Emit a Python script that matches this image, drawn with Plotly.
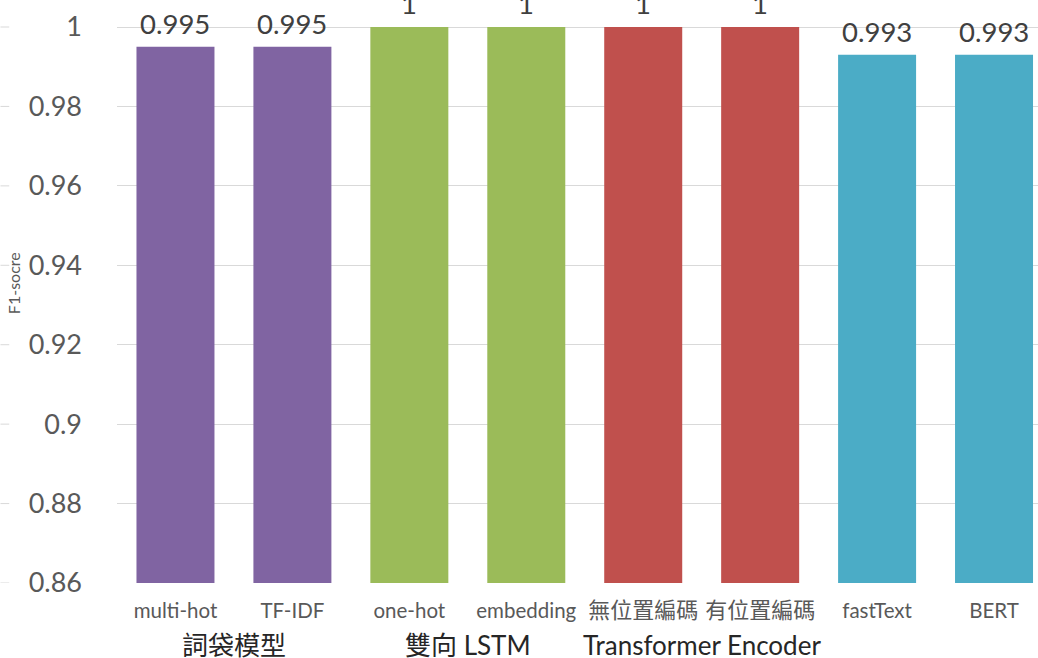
import plotly.graph_objects as go

# F1 scores per model variant
categories = ["multi-hot", "TF-IDF", "one-hot", "embedding",
              "無位置編碼", "有位置編碼", "fastText", "BERT"]
f1_scores = [0.995, 0.995, 1, 1, 1, 1, 0.993, 0.993]
groups = ["詞袋模型", "詞袋模型", "雙向 LSTM", "雙向 LSTM",
          "Transformer Encoder", "Transformer Encoder", "", ""]
bar_colors = ["#8064A2", "#8064A2", "#9BBB59", "#9BBB59",
              "#C0504D", "#C0504D", "#4BACC6", "#4BACC6"]
y_ticks = [0.86, 0.88, 0.90, 0.92, 0.94, 0.96, 0.98, 1.0]
y_tick_text = ["0.86", "0.88", "0.9", "0.92", "0.94", "0.96", "0.98", "1"]

FONT = "Lato, 'Noto Sans CJK TC', sans-serif"


def cat_label(s):
    # CJK labels are set a little larger so they sit with the Latin ones
    if any(ord(ch) > 0x2E80 for ch in s):
        return f'<span style="font-size:22px">{s}</span>'
    return s


x_pos = list(range(len(categories)))

fig = go.Figure(go.Bar(
    x=x_pos,
    y=f1_scores,
    marker=dict(color=bar_colors, line=dict(width=0)),
    width=0.667,
    base=0,
    hoverinfo="x+y",
))

# value labels above each bar
for xi, v in zip(x_pos, f1_scores):
    fig.add_annotation(
        x=xi, xref="x", y=v, yref="y",
        yanchor="bottom", yshift=5,
        text=f"{v:g}", showarrow=False,
        font=dict(family=FONT, size=27.5, color="#404040"),
    )

# group captions centred beneath their member categories
seen = []
for g in groups:
    if g and g not in seen:
        seen.append(g)
for g in seen:
    idx = [i for i, gg in enumerate(groups) if gg == g]
    fig.add_annotation(
        x=sum(idx) / len(idx), xref="x",
        y=0, yref="paper", yanchor="middle", yshift=-62,
        text=g, showarrow=False,
        font=dict(family=FONT, size=26, color="#262626"),
    )

# y-axis title
fig.add_annotation(
    x=-0.1125, xref="paper", y=0.515, yref="paper",
    text="F1-socre", textangle=-90, showarrow=False,
    font=dict(family=FONT, size=16, color="#595959"),
    xanchor="center", yanchor="middle",
)

# short guide marks at the far left edge at each gridline
for t in y_ticks:
    fig.add_shape(type="line", xref="paper", yref="y",
                  x0=-0.1265, x1=-0.117, y0=t, y1=t,
                  line=dict(color="#d9d9d9", width=1))

fig.update_layout(
    width=1038, height=658,
    margin=dict(l=116.5, r=0, t=0, b=75, autoexpand=False),
    paper_bgcolor="white", plot_bgcolor="white",
    showlegend=False,
    xaxis=dict(
        range=[-0.5, 7.376],
        tickvals=x_pos, ticktext=[cat_label(c) for c in categories],
        tickfont=dict(family=FONT, size=20.5, color="#595959"),
        tickangle=0, automargin=False,
        showgrid=False, zeroline=False, showline=False,
        ticks="", ticklabelstandoff=13,
    ),
    yaxis=dict(
        range=[0.86, 1.0068],
        tickvals=y_ticks, ticktext=y_tick_text,
        tickfont=dict(family=FONT, size=27, color="#595959"),
        automargin=False,
        showgrid=True, gridcolor="#d9d9d9", gridwidth=1,
        zeroline=False, showline=False, ticks="",
        ticklabelstandoff=34,
    ),
)

fig.write_html("out.html")
